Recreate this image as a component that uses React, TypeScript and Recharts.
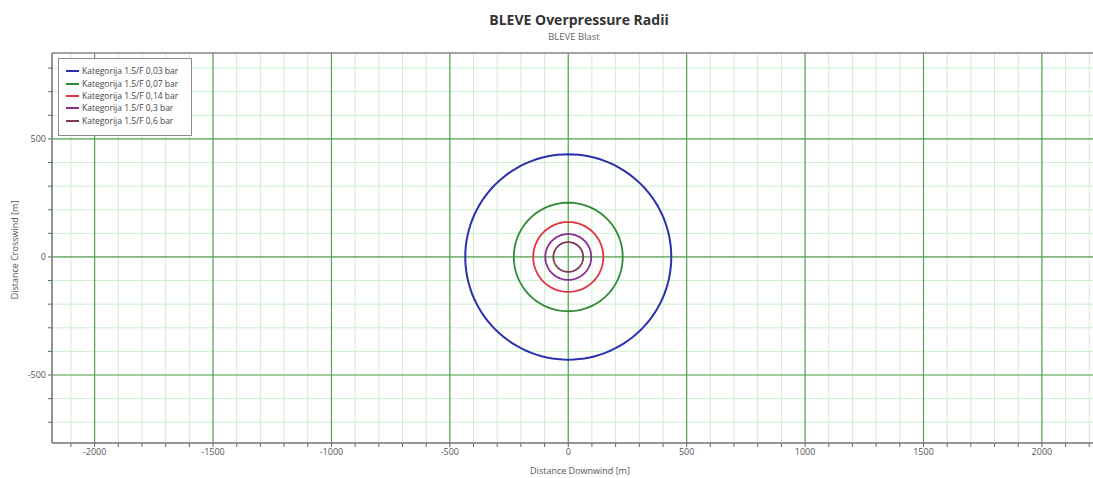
import React from 'react';
import { ComposedChart, Scatter, XAxis, YAxis, CartesianGrid, ReferenceLine } from 'recharts';

const seriesNames = [
  'Kategorija 1.5/F 0,03 bar',
  'Kategorija 1.5/F 0,07 bar',
  'Kategorija 1.5/F 0,14 bar',
  'Kategorija 1.5/F 0,3 bar',
  'Kategorija 1.5/F 0,6 bar',
];
const seriesRadii = [435, 230, 148, 97, 63];
const seriesColors = ['#2b30ad', '#2f8a35', '#e2323f', '#8b2f8f', '#7d3a58'];

const xTicks = [
  -2100, -2000, -1900, -1800, -1700, -1600, -1500, -1400, -1300, -1200, -1100,
  -1000, -900, -800, -700, -600, -500, -400, -300, -200, -100, 0,
  100, 200, 300, 400, 500, 600, 700, 800, 900, 1000, 1100,
  1200, 1300, 1400, 1500, 1600, 1700, 1800, 1900, 2000, 2100, 2200,
];
const yTicks = [-700, -600, -500, -400, -300, -200, -100, 0, 100, 200, 300, 400, 500, 600, 700, 800];
const xMajor = [-2000, -1500, -1000, -500, 0, 500, 1000, 1500, 2000];
const yMajor = [-500, 0, 500];
const xDomain: [number, number] = [-2180, 2220];
const yDomain: [number, number] = [-788, 864];

const circlePoints = (r: number) => {
  const pts: { x: number; y: number }[] = [];
  for (let i = 0; i <= 120; i++) {
    const a = (i / 120) * Math.PI * 2;
    pts.push({ x: r * Math.cos(a), y: r * Math.sin(a) });
  }
  return pts;
};

const FONT = '"Open Sans", "DejaVu Sans", sans-serif';

const fmtX = (v: number) => (xMajor.includes(v) ? String(v) : '');
const fmtY = (v: number) => (yMajor.includes(v) ? String(v) : '');

const NoShape = () => <g />;

export default function App() {
  return (
    <div
      style={{
        position: 'fixed',
        left: 0,
        top: 0,
        width: 1093,
        height: 478,
        overflow: 'hidden',
        background: '#ffffff',
        fontFamily: FONT,
      }}
    >
      <ComposedChart
        width={1094}
        height={478}
        margin={{ top: 53, right: 0, bottom: 0, left: 0 }}
        style={{ position: 'absolute', left: 0, top: 0 }}
      >
        <CartesianGrid stroke="#cfeecf" strokeWidth={1} />
        <XAxis
          type="number"
          dataKey="x"
          domain={xDomain}
          ticks={xTicks}
          tickFormatter={fmtX}
          allowDataOverflow
          height={35}
          tickSize={4}
          tickLine={{ stroke: '#666' }}
          axisLine={{ stroke: '#777', strokeWidth: 1.5 }}
          tick={{ fontSize: 9, fill: '#555', fontFamily: FONT }}
          interval={0}
        />
        <YAxis
          type="number"
          dataKey="y"
          domain={yDomain}
          ticks={yTicks}
          tickFormatter={fmtY}
          allowDataOverflow
          width={52}
          tickSize={4}
          tickLine={{ stroke: '#666' }}
          axisLine={{ stroke: '#777', strokeWidth: 1.5 }}
          tick={{ fontSize: 9, fill: '#555', fontFamily: FONT }}
          interval={0}
        />
        {xMajor.map((v) => (
          <ReferenceLine key={'x' + v} x={v} stroke="#5aa25a" strokeWidth={1.2} />
        ))}
        {yMajor.map((v) => (
          <ReferenceLine key={'y' + v} y={v} stroke="#5aa25a" strokeWidth={1.2} />
        ))}
        <ReferenceLine y={yDomain[1]} stroke="#8a8a8a" strokeWidth={1.5} />
        {seriesRadii.map((r, i) => (
          <Scatter
            key={seriesNames[i]}
            name={seriesNames[i]}
            data={circlePoints(r)}
            line={{ stroke: seriesColors[i], strokeWidth: i === 0 ? 2 : 1.8 }}
            lineType="joint"
            shape={NoShape}
            legendType="none"
            isAnimationActive={false}
          />
        ))}
      </ComposedChart>

      <div
        style={{
          position: 'absolute',
          left: 58,
          top: 58,
          width: 134,
          height: 78,
          border: '1px solid #8c8c8c',
          background: '#ffffff',
          boxSizing: 'border-box',
          padding: '6px 0 0 7px',
        }}
      >
        {seriesNames.map((n, i) => (
          <div key={n} style={{ display: 'flex', alignItems: 'center', height: 12.4 }}>
            <div style={{ width: 13, height: 2, background: seriesColors[i], marginRight: 3 }} />
            <span style={{ fontSize: 8.5, color: '#444', whiteSpace: 'nowrap', lineHeight: '12px' }}>{n}</span>
          </div>
        ))}
      </div>

      <div
        style={{
          position: 'absolute',
          left: 579 - 150,
          top: 12,
          width: 300,
          textAlign: 'center',
          fontSize: 14,
          fontWeight: 700,
          color: '#333',
          lineHeight: '16px',
        }}
      >
        BLEVE Overpressure Radii
      </div>
      <div
        style={{
          position: 'absolute',
          left: 574 - 100,
          top: 31,
          width: 200,
          textAlign: 'center',
          fontSize: 9.5,
          color: '#666',
          lineHeight: '12px',
        }}
      >
        BLEVE Blast
      </div>
      <div
        style={{
          position: 'absolute',
          left: 580 - 100,
          top: 465,
          width: 200,
          textAlign: 'center',
          fontSize: 9,
          color: '#555',
          lineHeight: '11px',
        }}
      >
        Distance Downwind [m]
      </div>
      <div
        style={{
          position: 'absolute',
          left: 15 - 100,
          top: 250 - 6,
          width: 200,
          height: 12,
          textAlign: 'center',
          fontSize: 9,
          color: '#555',
          lineHeight: '12px',
          transform: 'rotate(-90deg)',
        }}
      >
        Distance Crosswind [m]
      </div>
    </div>
  );
}
